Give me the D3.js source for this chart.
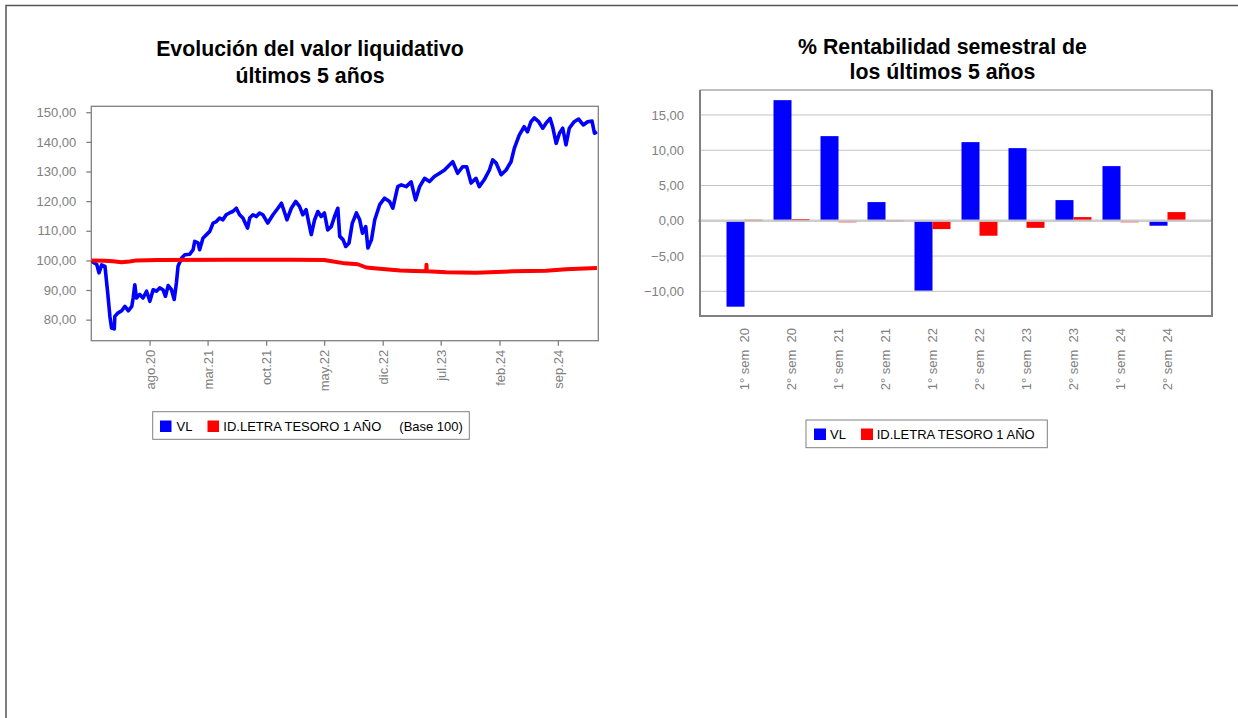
<!DOCTYPE html>
<html><head><meta charset="utf-8">
<script src="https://cdn.jsdelivr.net/npm/d3@7"></script>
<style>
html,body{margin:0;padding:0;background:#fff;}
svg{display:block;font-family:Arial,"Liberation Sans",sans-serif;}
</style></head>
<body><svg id="c" width="1238" height="718"></svg>
<script>
// ---------- Data: left chart (valor liquidativo, base 100) ----------
const vlDates = ["2020-01-02","2020-01-21","2020-01-29","2020-02-08","2020-02-20","2020-03-01","2020-03-09","2020-03-15","2020-03-25","2020-03-27",
"2020-04-08","2020-04-21","2020-05-03","2020-05-15","2020-05-28","2020-06-02","2020-06-08","2020-06-14","2020-06-26","2020-07-08",
"2020-07-21","2020-08-02","2020-08-14","2020-08-26","2020-09-07","2020-09-19","2020-09-28","2020-10-08","2020-10-20","2020-10-30",
"2020-11-07","2020-11-13","2020-11-26","2020-12-08","2020-12-26","2021-01-07","2021-01-13","2021-01-25","2021-01-31","2021-02-12",
"2021-02-25","2021-03-09","2021-03-21","2021-04-02","2021-04-14","2021-04-26","2021-05-08","2021-05-20","2021-06-01","2021-06-14",
"2021-06-26","2021-07-08","2021-07-25","2021-08-02","2021-08-14","2021-08-26","2021-09-07","2021-09-19","2021-10-07","2021-10-26",
"2021-11-13","2021-11-26","2021-12-08","2021-12-16","2022-01-01","2022-01-17","2022-01-31","2022-02-12","2022-02-24","2022-03-15",
"2022-03-27","2022-04-08","2022-04-20","2022-05-02","2022-05-14","2022-05-27","2022-06-08","2022-06-20","2022-06-27","2022-07-09",
"2022-07-19","2022-07-31","2022-08-12","2022-08-27","2022-09-08","2022-09-18","2022-09-30","2022-10-08","2022-10-21","2022-11-02",
"2022-11-20","2022-12-08","2022-12-26","2023-01-07","2023-01-25","2023-02-07","2023-02-25","2023-03-15","2023-03-31","2023-04-15",
"2023-05-03","2023-05-21","2023-06-08","2023-06-27","2023-07-15","2023-08-02","2023-08-14","2023-09-01","2023-09-19","2023-10-04",
"2023-10-20","2023-11-07","2023-11-19","2023-12-07","2023-12-26","2024-01-07","2024-01-20","2024-02-07","2024-02-25","2024-03-14",
"2024-03-26","2024-04-13","2024-05-01","2024-05-13","2024-05-26","2024-06-07","2024-06-23","2024-07-08","2024-07-20","2024-08-04",
"2024-08-13","2024-08-26","2024-09-07","2024-09-19","2024-10-01","2024-10-13","2024-10-31","2024-11-16","2024-12-03","2024-12-19",
"2025-01-04","2025-01-13","2025-01-22"];
const vlValues = [99.7,98.6,95.8,98.5,98.0,89.0,81.1,77.2,76.9,81.1,
82.3,83.0,84.5,83.0,84.5,87.3,91.8,87.3,88.5,87.3,
89.6,86.2,90.1,89.6,90.7,90.1,87.9,91.5,90.1,86.8,
92.4,98.0,100.8,101.9,102.1,103.6,106.4,105.9,103.6,107.5,
108.7,109.8,112.6,113.1,114.3,113.7,115.4,116.0,116.5,117.6,
115.4,114.3,110.9,114.3,115.4,114.8,116.0,115.4,112.6,115.4,
117.6,119.3,116.0,113.7,117.6,119.9,118.2,115.4,117.1,108.7,
113.7,116.5,114.8,116.0,110.3,111.4,114.8,117.6,108.1,107.0,
104.7,105.9,112.6,116.0,113.7,109.2,111.4,104.2,107.0,113.7,
118.8,121.0,119.9,117.6,124.9,125.5,124.9,126.5,120.4,124.9,
127.7,126.6,128.3,129.4,130.5,132.2,133.3,129.4,131.6,131.6,
126.1,127.7,124.9,127.2,130.5,133.9,132.8,128.9,130.5,133.3,
137.8,142.3,145.1,143.4,146.8,148.1,146.8,144.6,146.3,147.9,
145.1,139.5,142.9,144.6,139.0,144.6,146.8,147.7,145.7,146.8,
147.0,142.9,143.4];
const letraDates = ["2020-01-01","2020-02-20","2020-03-20","2020-04-20","2020-05-20","2020-06-15","2020-09-01","2021-06-01","2022-01-01","2022-05-01",
"2022-05-29","2022-07-15","2022-09-01","2022-10-02","2022-11-20","2023-02-03","2023-03-25","2023-05-09","2023-05-10","2023-05-11",
"2023-07-21","2023-11-07","2024-03-19","2024-07-20","2024-10-01","2025-01-22"];
const letraValues = [100.0,99.9,99.7,99.4,99.6,100.0,100.1,100.2,100.2,100.1,
99.7,99.0,98.7,97.6,97.2,96.6,96.4,96.3,98.5,96.3,
96.0,95.8,96.3,96.5,97.0,97.4];
const leftYTicks = [80,90,100,110,120,130,140,150];
const leftXTickDates = ["2020-08-01","2021-03-01","2021-10-01","2022-05-01","2022-12-01","2023-07-01","2024-02-01","2024-09-01"];
const leftXTickLabels = ["ago.20","mar.21","oct.21","may.22","dic.22","jul.23","feb.24","sep.24"];

// ---------- Data: right chart (rentabilidad semestral %) ----------
const semesters = ["1° sem  20","2° sem  20","1° sem  21","2° sem  21","1° sem  22","2° sem  22","1° sem  23","2° sem  23","1° sem  24","2° sem  24"];
const semVL = [-12.18,17.1,12.0,2.65,-9.9,11.15,10.3,2.93,7.75,-0.7];
const semLetra = [0.15,0.25,-0.15,0.1,-1.18,-2.12,-1.0,0.52,-0.15,1.23];
const rightYTicks = [-10,-5,0,5,10,15];

// ---------- Drawing ----------
const svg = d3.select("#c");
const fmt = v => d3.format(".2f")(v).replace(".", ",");
const BLUE = "#0000ff", RED = "#ff0000", GRAY = "#808080";
const FONT = "Arial, 'Liberation Sans', sans-serif";

// page border
svg.append("path").attr("d","M6,718V5.5H1238").attr("fill","none").attr("stroke","#555").attr("stroke-width",1.5);

// ===== Left chart =====
const parse = d3.timeParse("%Y-%m-%d");
const L = {x0:91.3, x1:598.3, y0:106.3, y1:340.7};
const x = d3.scaleTime().domain([parse("2020-01-01"), parse("2025-01-27")]).range([L.x0, L.x1]);
const y = d3.scaleLinear().domain([72.9,152]).range([L.y1, L.y0]);

svg.append("text").attr("x",310).attr("y",56).attr("text-anchor","middle")
  .attr("font-size",21.3).attr("font-weight","bold").text("Evolución del valor liquidativo");
svg.append("text").attr("x",310).attr("y",83.3).attr("text-anchor","middle")
  .attr("font-size",21.3).attr("font-weight","bold").text("últimos 5 años");

svg.append("rect").attr("x",L.x0).attr("y",L.y0).attr("width",L.x1-L.x0).attr("height",L.y1-L.y0)
  .attr("fill","#fff").attr("stroke",GRAY).attr("stroke-width",1.3);

const yAxL = svg.append("g").attr("transform",`translate(${L.x0},0)`)
  .call(d3.axisLeft(y).tickValues(leftYTicks).tickSize(5).tickPadding(10).tickFormat(fmt));
yAxL.select(".domain").remove();
yAxL.selectAll("line").attr("stroke",GRAY).attr("stroke-width",1.3);
yAxL.selectAll("text").attr("fill",GRAY).attr("font-size",13).attr("font-family",FONT);

const xTickDates = leftXTickDates.map(parse);
const xAxL = svg.append("g").attr("transform",`translate(0,${L.y1})`)
  .call(d3.axisBottom(x).tickValues(xTickDates).tickSize(5).tickFormat((d,i)=>leftXTickLabels[i]));
xAxL.select(".domain").remove();
xAxL.selectAll("line").attr("stroke",GRAY).attr("stroke-width",1.3);
xAxL.selectAll("text").attr("fill",GRAY).attr("font-size",13).attr("font-family",FONT)
  .attr("text-anchor","end").attr("transform","rotate(-90)").attr("x",-9).attr("y",0).attr("dy","0.35em");

svg.append("clipPath").attr("id","clipL").append("rect")
  .attr("x",L.x0).attr("y",L.y0).attr("width",L.x1-L.x0).attr("height",L.y1-L.y0);

const line = d3.line().x(d=>x(d[0])).y(d=>y(d[1]));
const vlData = vlDates.map((d,i)=>[parse(d), vlValues[i]]);
const letraData = letraDates.map((d,i)=>[parse(d), letraValues[i]]);
svg.append("path").datum(vlData).attr("d",line).attr("fill","none").attr("stroke",BLUE)
  .attr("stroke-width",3.6).attr("stroke-linejoin","round").attr("clip-path","url(#clipL)");
svg.append("path").datum(letraData).attr("d",line).attr("fill","none").attr("stroke",RED)
  .attr("stroke-width",4).attr("stroke-linejoin","round").attr("clip-path","url(#clipL)");

// left legend
const lg = svg.append("g");
lg.append("rect").attr("x",152.7).attr("y",411.7).attr("width",316.6).attr("height",27.6)
  .attr("fill","#fff").attr("stroke",GRAY).attr("stroke-width",1);
lg.append("rect").attr("x",160).attr("y",420.5).attr("width",11.5).attr("height",11.5).attr("fill",BLUE);
lg.append("text").attr("x",176.5).attr("y",431).attr("font-size",13).text("VL");
lg.append("rect").attr("x",207.5).attr("y",420.5).attr("width",11.5).attr("height",11.5).attr("fill",RED);
lg.append("text").attr("x",223.3).attr("y",431).attr("font-size",13).text("ID.LETRA TESORO 1 AÑO");
lg.append("text").attr("x",399.3).attr("y",431).attr("font-size",13).text("(Base 100)");

// ===== Right chart =====
const R = {x0:700, x1:1212, y0:90, y1:316};
const xb = d3.scaleBand().domain(semesters).range([R.x0, R.x1]).paddingInner(0.234).paddingOuter(0.564);
const xs = d3.scaleBand().domain(["VL","LETRA"]).range([0, xb.bandwidth()]);
const yb = d3.scaleLinear().domain([-13.5,18.54]).range([R.y1, R.y0]);

svg.append("text").attr("x",942.5).attr("y",53.5).attr("text-anchor","middle")
  .attr("font-size",21.3).attr("font-weight","bold").text("% Rentabilidad semestral de");
svg.append("text").attr("x",942.5).attr("y",78.5).attr("text-anchor","middle")
  .attr("font-size",21.3).attr("font-weight","bold").text("los últimos 5 años");

// grid
svg.append("g").selectAll("line").data(rightYTicks.filter(t=>t!==0)).join("line")
  .attr("x1",R.x0).attr("x2",R.x1).attr("y1",d=>yb(d)).attr("y2",d=>yb(d))
  .attr("stroke","#c4c4c4").attr("stroke-width",1);

// bars
const groups = svg.append("g").selectAll("g").data(semesters).join("g")
  .attr("transform",d=>`translate(${xb(d)},0)`);
groups.append("rect").attr("x",xs("VL")).attr("width",xs.bandwidth())
  .attr("y",(d,i)=>yb(Math.max(0,semVL[i]))).attr("height",(d,i)=>Math.abs(yb(semVL[i])-yb(0)))
  .attr("fill",BLUE);
groups.append("rect").attr("x",xs("LETRA")).attr("width",xs.bandwidth())
  .attr("y",(d,i)=>yb(Math.max(0,semLetra[i]))).attr("height",(d,i)=>Math.max(1.5,Math.abs(yb(semLetra[i])-yb(0))))
  .attr("fill",RED);

// zero line
svg.append("line").attr("x1",R.x0-2).attr("x2",R.x1).attr("y1",yb(0)).attr("y2",yb(0))
  .attr("stroke","#c8c8c8").attr("stroke-width",2.5).attr("opacity",0.9);

// frame
svg.append("line").attr("x1",R.x0).attr("x2",R.x1).attr("y1",R.y0).attr("y2",R.y0).attr("stroke","#c0c0c0").attr("stroke-width",2);
svg.append("path").attr("d",`M${R.x0},${R.y0}V${R.y1}H${R.x1}V${R.y0}`).attr("fill","none").attr("stroke",GRAY).attr("stroke-width",2);

// y axis labels
const yAxR = svg.append("g").attr("transform",`translate(${R.x0},0)`)
  .call(d3.axisLeft(yb).tickValues(rightYTicks).tickSize(0).tickPadding(16).tickFormat(fmt));
yAxR.select(".domain").remove();
yAxR.selectAll("text").attr("fill",GRAY).attr("font-size",13).attr("font-family",FONT);

// x labels
const xAxR = svg.append("g").attr("transform",`translate(0,${R.y1})`)
  .call(d3.axisBottom(xb).tickSize(0).tickFormat(d=>d));
xAxR.select(".domain").remove();
xAxR.selectAll("text").attr("fill",GRAY).attr("font-size",13).attr("font-family",FONT)
  .style("white-space","pre")
  .attr("text-anchor","end").attr("transform","rotate(-90)").attr("x",-12).attr("y",0).attr("dy","0.35em");

// right legend
const rg = svg.append("g");
rg.append("rect").attr("x",806).attr("y",420).attr("width",241.3).attr("height",27.7)
  .attr("fill","#fff").attr("stroke",GRAY).attr("stroke-width",1);
rg.append("rect").attr("x",814).attr("y",428.5).attr("width",12).attr("height",11.5).attr("fill",BLUE);
rg.append("text").attr("x",830).attr("y",439).attr("font-size",13).text("VL");
rg.append("rect").attr("x",861).attr("y",428.5).attr("width",12).attr("height",11.5).attr("fill",RED);
rg.append("text").attr("x",876.7).attr("y",439).attr("font-size",13).text("ID.LETRA TESORO 1 AÑO");
</script></body></html>
